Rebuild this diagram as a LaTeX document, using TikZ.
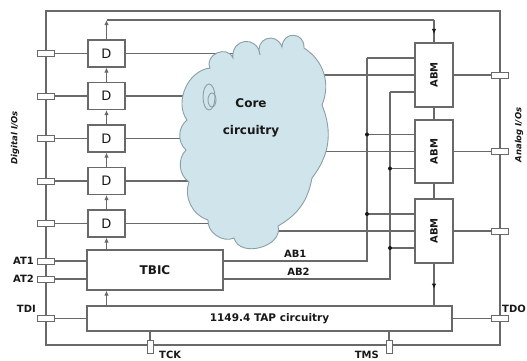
\documentclass[tikz,border=0pt]{standalone}
\usepackage{fontspec}
\setmainfont{DejaVu Sans}
\usepackage{tikz}
\usetikzlibrary{positioning, arrows.meta, calc, decorations.markings}
\definecolor{wirec}{RGB}{105,105,105}
\definecolor{inkc}{RGB}{24,24,24}
\definecolor{cloudfill}{RGB}{207,228,235}
\definecolor{clouddraw}{RGB}{138,158,166}

\begin{document}
\begin{tikzpicture}[x=1pt, y=-1pt,
    >={Latex[length=5pt,width=4.5pt]},
    wire/.style={draw=wirec, line width=1.1pt},
    box/.style={rectangle, draw=wirec, line width=1.1pt, fill=white, inner sep=0pt, text=inkc},
    dbox/.style={box, minimum width=37pt, minimum height=27pt, font=\fontsize{13}{13}\selectfont},
    abm/.style={box, minimum width=38pt, font=\fontsize{10}{10}\selectfont\bfseries},
    pad/.style={box, line width=0.9pt, minimum width=17pt, minimum height=6pt},
    vpad/.style={pad, minimum width=6pt, minimum height=13pt},
    lbl/.style={font=\fontsize{10}{10}\selectfont\bfseries, text=inkc, inner sep=1pt},
    dot/.style={circle, fill=inkc, inner sep=0pt, minimum size=4pt},
    midarrow/.style={postaction={decorate},
        decoration={markings, mark=at position #1 with {\arrow[inkc]{>}}}}]

  \useasboundingbox (0,0) rectangle (527,360);
  \coordinate (nw) at (46,11);
  \coordinate (se) at (500,345);
  \coordinate (topl) at (0,20);
  \coordinate (core) at (252,140);
  \coordinate (bus1) at (367,0);
  \coordinate (bus2) at (390,0);
  \draw[wire] (nw) rectangle (se);

  \foreach \i/\y in {1/53.5, 2/96, 3/138.5, 4/181, 5/223.5} {
    \node[dbox] (d\i) at (106.5,\y) {D};
    \node[pad] (p\i) at (46,\y) {};
    \draw[wire] (p\i) -- (d\i);
    \draw[wire] (d\i.east) -- (d\i.east -| core);
  }

  \node[box, minimum width=136pt, minimum height=40pt,
        font=\fontsize{12}{12}\selectfont\bfseries] (tbic) at (155,270) {TBIC};
  \node[box, minimum width=365pt, minimum height=25pt,
        font=\fontsize{10.5}{10.5}\selectfont\bfseries] (tap) at (269.5,318.5) {1149.4 TAP circuitry};

  \foreach \m/\y/\h in {1/75/64, 2/151.5/63, 3/231/64} {
    \node[abm, minimum height=\h pt] (abm\m) at (434,\y) {\rotatebox{90}{ABM}};
    \node[pad] (q\m) at (500,\y) {};
    \draw[wire] (abm\m) -- (q\m);
    \draw[wire] (abm\m.west) -- (abm\m.west -| core);
    \draw[wire] (abm\m.west) ++(0,-17) coordinate (u\m) -- (u\m -| bus1);
    \draw[wire] (abm\m.west) ++(0,17) coordinate (v\m) -- (v\m -| bus2);
  }

  \node[pad] (at1) at (46,261) {};
  \node[pad] (at2) at (46,279) {};
  \node[pad] (tdi) at (46,318.5) {};
  \node[pad] (tdo) at (500,318.5) {};
  \node[vpad] (tck) at (150,347) {};
  \node[vpad] (tms) at (389,347) {};
  \draw[wire] (at1) -- (at1 -| tbic.west);
  \draw[wire] (at2) -- (at2 -| tbic.west);
  \draw[wire] (tdi) -- (tap);
  \draw[wire] (tap) -- (tdo);
  \draw[wire] (tck |- tap.south) -- (tck);
  \draw[wire] (tms |- tap.south) -- (tms);

  \draw[wire] (tbic.east |- at1) -- node[lbl, above=2pt] (lab1) {AB1} (bus1 |- at1) -- (bus1 |- u1);
  \draw[wire] (tbic.east |- at2) -- node[lbl, above=2pt, pos=0.45] (lab2) {AB2} (bus2 |- at2) -- (bus2 |- v1);
  \node[dot] (j1) at (bus1 |- u2) {};
  \node[dot] (j2) at (bus1 |- u3) {};
  \node[dot] (j3) at (bus2 |- v2) {};
  \node[dot] (j4) at (bus2 |- v3) {};

  \draw[wire,->] (d5 |- tap.north) -- (d5 |- tbic.south);
  \draw[wire,->] (d5 |- tbic.north) -- (d5);
  \draw[wire,->] (d5) -- (d4);
  \draw[wire,->] (d4) -- (d3);
  \draw[wire,->] (d3) -- (d2);
  \draw[wire,->] (d2) -- (d1);
  \draw[wire,->] (d1) -- (d1 |- topl);
  \draw[wire] (d1 |- topl) -- (abm1 |- topl);
  \draw[wire,midarrow=0.62] (abm1 |- topl) -- (abm1);
  \draw[wire] (abm1) -- (abm2);
  \draw[wire] (abm2) -- (abm3);
  \draw[wire,midarrow=0.6] (abm3) -- (abm3 |- tap.north);

  \filldraw[fill=cloudfill, draw=clouddraw, line width=0.9pt]
    (187,120) to[bend left=60] (210,68) to[bend left=90, looseness=1.5] (233,58)
    to[bend left=90, looseness=1.9] (260,55) to[bend left=90, looseness=1.9] (282,47)
    to[bend left=90, looseness=1.9] (304,48) to[bend left=40] (322,105)
    to[bend left=30] (312,178) to[bend left=25] (278,226)
    to[bend left=90, looseness=1.2] (234,238) to[bend left=60] (208,220)
    to[bend left=45] (189,182) to[bend left=50] (186,150) to[bend left=50] (187,120) -- cycle;
  \filldraw[fill=cloudfill, draw=clouddraw, line width=0.9pt] (209,97) ellipse [x radius=6, y radius=13];
  \draw[clouddraw, line width=0.9pt] (212,100) ellipse [x radius=4, y radius=7];
  \node[font=\fontsize{12}{27}\selectfont\bfseries, align=center, text=inkc] (ctext) at (251,117.5) {Core\\circuitry};

  \node[lbl, anchor=east] (tat1) at (35,261) {AT1};
  \node[lbl, anchor=east] (tat2) at (35,279) {AT2};
  \node[lbl, anchor=east] (ttdi) at (37,309) {TDI};
  \node[lbl, anchor=east] (ttdo) at (527,309) {TDO};
  \node[lbl, anchor=west] (ttck) at (158,355) {TCK};
  \node[lbl, anchor=east] (ttms) at (380,355) {TMS};
  \node[lbl, font=\fontsize{8.5}{8.5}\selectfont\bfseries\itshape, rotate=90] (tdig) at (15,138) {Digital I/Os};
  \node[lbl, font=\fontsize{8.5}{8.5}\selectfont\bfseries\itshape, rotate=90] (tana) at (519,135) {Analog I/Os};
\end{tikzpicture}
\end{document}
